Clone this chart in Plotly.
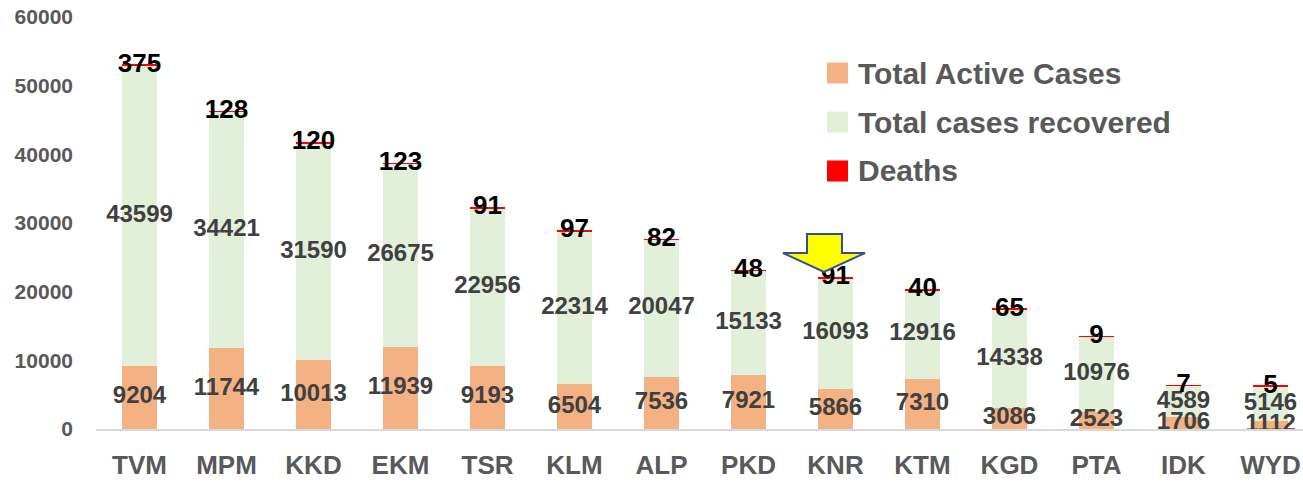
import plotly.graph_objects as go

# District-wise COVID-19 figures
districts = ["TVM", "MPM", "KKD", "EKM", "TSR", "KLM", "ALP",
             "PKD", "KNR", "KTM", "KGD", "PTA", "IDK", "WYD"]
active = [9204, 11744, 10013, 11939, 9193, 6504, 7536,
          7921, 5866, 7310, 3086, 2523, 1706, 1112]
recovered = [43599, 34421, 31590, 26675, 22956, 22314, 20047,
             15133, 16093, 12916, 14338, 10976, 4589, 5146]
deaths = [375, 128, 120, 123, 91, 97, 82,
          48, 91, 40, 65, 9, 7, 5]

y_ticks = [0, 10000, 20000, 30000, 40000, 50000, 60000]

C_ACTIVE = "#F4B183"
C_RECOV = "#E2F0D9"
C_DEATH = "#FF0000"
FONT = "Liberation Sans"
GREY = "#595959"
LABEL = "#404040"

W, H = 1303, 483
ML, MR, MT, MB = 96, 0, 17, 54
PW, PH = W - ML - MR, H - MT - MB

fig = go.Figure()
bar_w = 0.40
for name, vals, col in [("Total Active Cases", active, C_ACTIVE),
                        ("Total cases recovered", recovered, C_RECOV),
                        ("Deaths", deaths, C_DEATH)]:
    fig.add_trace(go.Bar(x=districts, y=vals, name=name, marker_color=col,
                         marker_line_width=0, width=bar_w, showlegend=False))

# Value labels centred in each stacked segment
act_mid = [a / 2 for a in active]
rec_mid = [a + r / 2 for a, r in zip(active, recovered)]
dth_mid = [a + r + d / 2 for a, r, d in zip(active, recovered, deaths)]

fig.add_trace(go.Scatter(x=districts, y=act_mid, mode="text",
                         text=["<b>%d</b>" % v for v in active], showlegend=False,
                         textfont=dict(family=FONT, size=24, color=LABEL),
                         hoverinfo="skip"))
fig.add_trace(go.Scatter(x=districts, y=rec_mid, mode="text",
                         text=["<b>%d</b>" % v for v in recovered], showlegend=False,
                         textfont=dict(family=FONT, size=24, color=LABEL),
                         hoverinfo="skip"))
fig.add_trace(go.Scatter(x=districts, y=dth_mid, mode="text",
                         text=["<b>%d</b>" % v for v in deaths], showlegend=False,
                         textfont=dict(family=FONT, size=26, color="#000000"),
                         hoverinfo="skip"))


def px(x, y):
    """Pixel position to paper coordinates."""
    return (x - ML) / PW, (H - MB - y) / PH


# Legend drawn as swatches + text
legend_rows = [("Total Active Cases", C_ACTIVE, 73),
               ("Total cases recovered", C_RECOV, 122),
               ("Deaths", C_DEATH, 171)]
shapes = []
annotations = []
for label, col, yc in legend_rows:
    x0, y0 = px(827, yc - 10.5)
    x1, y1 = px(848, yc + 10.5)
    shapes.append(dict(type="rect", xref="paper", yref="paper",
                       x0=x0, x1=x1, y0=y1, y1=y0,
                       fillcolor=col, line_width=0))
    tx, ty = px(856, yc)
    annotations.append(dict(xref="paper", yref="paper", x=tx, y=ty,
                            xanchor="left", yanchor="middle", showarrow=False,
                            text="<b>%s</b>" % label,
                            font=dict(family=FONT, size=30, color=GREY)))

# Down-pointing block arrow
arrow_px = [(807, 234), (842, 234), (842, 253), (865, 253),
            (824, 272), (783, 253), (807, 253)]
pts = [px(x, y) for x, y in arrow_px]
path = "M " + " L ".join("%.5f,%.5f" % p for p in pts) + " Z"
shapes.append(dict(type="path", xref="paper", yref="paper", path=path,
                   fillcolor="#FFFF00", line=dict(color="#2F528F", width=2)))

fig.update_layout(
    width=W, height=H,
    margin=dict(l=ML, r=MR, t=MT, b=MB),
    barmode="stack",
    plot_bgcolor="white", paper_bgcolor="white",
    shapes=shapes, annotations=annotations,
    xaxis=dict(type="category", categoryorder="array", categoryarray=districts,
               range=[-0.5, -0.5 + PW / 87.0],
               showline=True, linecolor="#D9D9D9", linewidth=2,
               showgrid=False, zeroline=False, ticks="",
               tickfont=dict(family=FONT, size=26, color=GREY),
               ticklabelstandoff=12),
    yaxis=dict(range=[0, 60000], tickvals=y_ticks,
               ticktext=["<b>%d</b>" % v for v in y_ticks],
               showline=False, showgrid=False, zeroline=False, ticks="",
               tickfont=dict(family=FONT, size=21, color=GREY),
               ticklabelstandoff=22),
)
fig.update_xaxes(ticktext=["<b>%s</b>" % d for d in districts], tickvals=districts)

fig.write_html("out.html")
